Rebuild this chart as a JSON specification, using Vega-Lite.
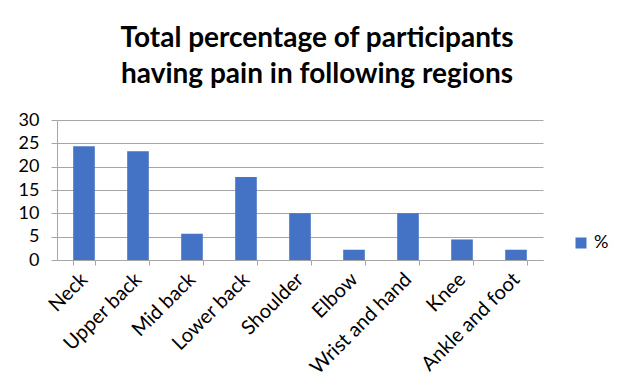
{
  "$schema": "https://vega.github.io/schema/vega-lite/v6.json",
  "autosize": "none",
  "width": 486,
  "height": 140,
  "padding": {"left": 57, "top": 120, "right": 79, "bottom": 128},
  "background": "#ffffff",
  "title": {
    "text": ["Total percentage of participants", "having pain in following regions"],
    "anchor": "middle",
    "frame": "group",
    "dx": 17,
    "offset": -6,
    "baseline": "bottom",
    "font": "Lato",
    "fontSize": 28,
    "fontWeight": "bold",
    "lineHeight": 36,
    "color": "#000000"
  },
  "data": {
    "values": [
      {"region": "Neck", "pct": 24.4, "series": "%"},
      {"region": "Upper back", "pct": 23.3, "series": "%"},
      {"region": "Mid back", "pct": 5.6, "series": "%"},
      {"region": "Lower back", "pct": 17.8, "series": "%"},
      {"region": "Shoulder", "pct": 10.0, "series": "%"},
      {"region": "Elbow", "pct": 2.2, "series": "%"},
      {"region": "Wrist and hand", "pct": 10.0, "series": "%"},
      {"region": "Knee", "pct": 4.4, "series": "%"},
      {"region": "Ankle and foot", "pct": 2.2, "series": "%"}
    ]
  },
  "mark": {"type": "bar"},
  "encoding": {
    "x": {
      "field": "region",
      "type": "nominal",
      "sort": null,
      "scale": {"paddingInner": 0.6, "paddingOuter": 0.3},
      "axis": {
        "title": null,
        "labelAngle": -45,
        "labelAlign": "right",
        "labelBaseline": "middle",
        "labelPadding": 11,
        "labelFont": "Lato",
        "labelFontSize": 20,
        "labelColor": "#000000",
        "tickBand": "extent",
        "tickSize": 5,
        "tickColor": "#a6a6a6",
        "domainColor": "#a6a6a6",
        "grid": false
      }
    },
    "y": {
      "field": "pct",
      "type": "quantitative",
      "scale": {"domain": [0, 30], "nice": false},
      "axis": {
        "title": null,
        "values": [0, 5, 10, 15, 20, 25, 30],
        "labelFont": "Lato",
        "labelFontSize": 18,
        "labelColor": "#000000",
        "labelPadding": 12,
        "tickSize": 6,
        "tickColor": "#a6a6a6",
        "domainColor": "#a6a6a6",
        "gridColor": "#a6a6a6",
        "grid": true
      }
    },
    "color": {
      "field": "series",
      "type": "nominal",
      "scale": {"range": ["#4472c4"]},
      "legend": {
        "title": null,
        "orient": "none",
        "legendX": 515,
        "legendY": 114,
        "symbolType": "square",
        "symbolSize": 121,
        "symbolStrokeWidth": 0,
        "labelFont": "Lato",
        "labelFontSize": 18,
        "labelColor": "#000000"
      }
    }
  },
  "config": {
    "view": {"stroke": null}
  }
}
